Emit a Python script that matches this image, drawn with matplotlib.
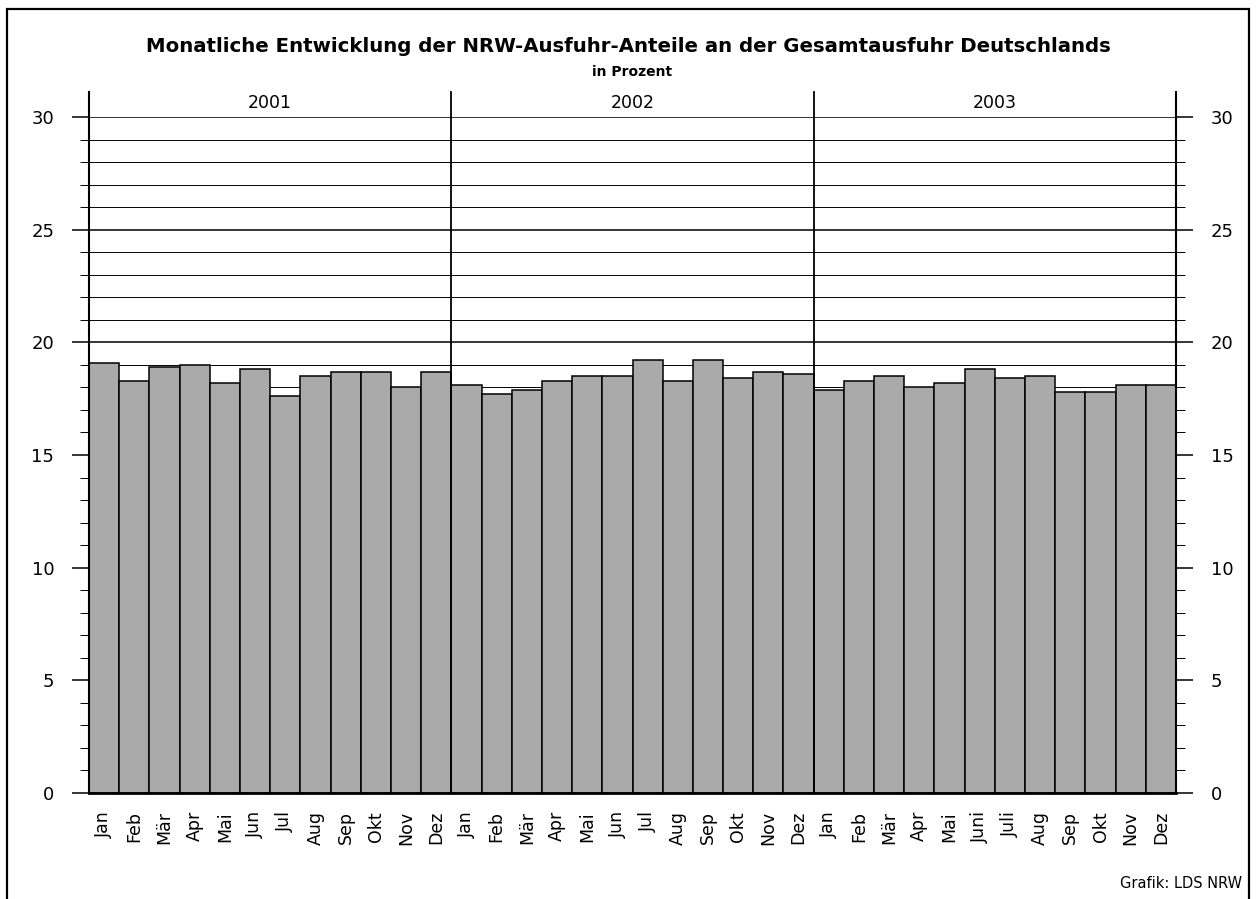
import matplotlib
matplotlib.use("Agg")
import matplotlib.pyplot as plt
from matplotlib.patches import Rectangle
from matplotlib.ticker import MultipleLocator

plt.rcParams['font.family'] = ['DejaVu Sans']

years = ["2001", "2002", "2003"]
months = [
    "Jan", "Feb", "Mär", "Apr", "Mai", "Jun", "Jul", "Aug", "Sep", "Okt", "Nov", "Dez",
    "Jan", "Feb", "Mär", "Apr", "Mai", "Jun", "Jul", "Aug", "Sep", "Okt", "Nov", "Dez",
    "Jan", "Feb", "Mär", "Apr", "Mai", "Juni", "Juli", "Aug", "Sep", "Okt", "Nov", "Dez",
]
shares_2001 = [19.1, 18.3, 18.9, 19.0, 18.2, 18.8, 17.6, 18.5, 18.7, 18.7, 18.0, 18.7]
shares_2002 = [18.1, 17.7, 17.9, 18.3, 18.5, 18.5, 19.2, 18.3, 19.2, 18.4, 18.7, 18.6]
shares_2003 = [17.9, 18.3, 18.5, 18.0, 18.2, 18.8, 18.4, 18.5, 17.8, 17.8, 18.1, 18.1]

values = shares_2001 + shares_2002 + shares_2003
x = list(range(len(values)))

fig = plt.figure(figsize=(12.56, 8.99), dpi=100)
ax = fig.add_axes([89 / 1256, 1 - 793 / 899, (1176 - 89) / 1256, (793 - 117) / 899])

# horizontal grid lines (thin every 1, thicker every 5)
for v in range(1, 31):
    ax.axhline(v, color="black", lw=1.1 if v % 5 == 0 else 0.7, zorder=1)

ax.bar(x, values, width=1.0, color="#aaaaaa", edgecolor="black", linewidth=1.1, zorder=2)

ax.set_xlim(-0.5, len(values) - 0.5)
ax.set_ylim(0, 30)

# vertical separators between years, extending above the plot
n = len(shares_2001)
for i in range(len(years) + 1):
    xb = i * n - 0.5
    ax.plot([xb, xb], [0, 31.1], color="black", lw=1.5 if i in (0, len(years)) else 1.3,
            clip_on=False, zorder=3)
for i, yr in enumerate(years):
    ax.text(i * n + (n - 1) / 2, 30.2, yr, ha="center", va="bottom", fontsize=12.5)

for s in ["top", "left", "right"]:
    ax.spines[s].set_visible(False)
ax.spines["bottom"].set_linewidth(2.0)
ax.spines["bottom"].set_zorder(4)

ax.yaxis.set_major_locator(MultipleLocator(5))
ax.yaxis.set_minor_locator(MultipleLocator(1))
ax.tick_params(axis="y", which="major", length=12, width=1.1, labelsize=13,
               left=True, right=True, labelleft=True, labelright=True, pad=13)
ax.tick_params(axis="y", which="minor", length=6.5, width=0.7, left=True, right=True)

ax.set_xticks(x)
ax.set_xticklabels(months, rotation=90, fontsize=12.5)
ax.tick_params(axis="x", length=0, pad=13)

fig.text(0.5, 1 - 46 / 899, "Monatliche Entwicklung der NRW-Ausfuhr-Anteile an der Gesamtausfuhr Deutschlands",
         ha="center", va="center", fontsize=14.2, fontweight="bold")
fig.text(0.503, 1 - 72 / 899, "in Prozent", ha="center", va="center", fontsize=10, fontweight="bold")
fig.text(1242 / 1256, 1 - 884 / 899, "Grafik: LDS NRW", ha="right", va="center", fontsize=10.5)

fig.patches.append(Rectangle((7 / 1256, -0.02), (1249 - 7) / 1256, 1.02 - 9 / 899,
                             transform=fig.transFigure, fill=False, edgecolor="black", lw=1.6))

fig.savefig("out.png", dpi=100)
